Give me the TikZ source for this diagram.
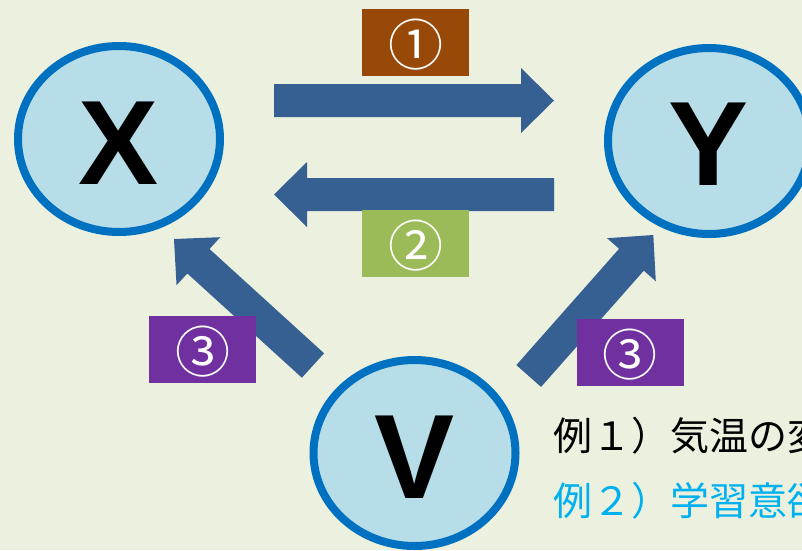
\documentclass[tikz,border=0pt]{standalone}
\usepackage{fontspec}
\setmainfont{Liberation Sans}
\newfontfamily\jpfont{Noto Sans CJK JP}
\usetikzlibrary{shapes.geometric,calc}

\definecolor{bgcol}{HTML}{EBF1DE}
\definecolor{ellfill}{HTML}{B7DEE8}
\definecolor{ellline}{HTML}{0070C0}
\definecolor{arrowblue}{HTML}{376092}
\definecolor{boxbrown}{HTML}{984807}
\definecolor{boxgreen}{HTML}{9BBB59}
\definecolor{boxpurple}{HTML}{7030A0}
\definecolor{exblue}{HTML}{00B0F0}

\tikzset{
  varell/.style={ellipse, draw=ellline, fill=ellfill, line width=8pt,
    minimum width=202pt, minimum height=186pt, inner sep=0pt},
  varletter/.style={font=\fontsize{120}{120}\selectfont\bfseries, inner sep=0pt},
  numbox/.style={minimum width=107pt, minimum height=67pt, inner sep=0pt},
  numtext/.style={text=white, inner sep=0pt, font=\jpfont\fontsize{55}{55}\selectfont},
  extext/.style={anchor=base west, inner sep=0pt,
    font=\jpfont\fontsize{39}{39}\selectfont}
}

% block arrow from tail #1 to tip #2
\newcommand\blockarrow[2]{%
  \path ($(#2)!33pt!(#1)$) coordinate (ba-n);
  \fill[arrowblue]
    ($(#1)!16.5pt!90:(#2)$) -- ($(ba-n)!16.5pt!90:(#2)$) --
    ($(ba-n)!32.5pt!90:(#2)$) -- (#2) --
    ($(ba-n)!32.5pt!-90:(#2)$) -- ($(ba-n)!16.5pt!-90:(#2)$) --
    ($(#1)!16.5pt!-90:(#2)$) -- cycle;
}

\begin{document}
\begin{tikzpicture}[x=1pt, y=-1pt]
  \fill[bgcol] (0,0) rectangle (802,550);
  \useasboundingbox (0,0) rectangle (802,550);
  \clip (0,0) rectangle (802,550);

  % the three variables
  \node[varell] (X) at (119,139) {};
  \node[varell] (Y) at (709,141) {};
  \node[varell] (V) at (414.5,453) {};
  \node[varletter] (Xl) at ($(X)+(0,4)$) {X};
  \node[varletter] (Yl) at ($(Y)+(0,3.5)$) {Y};
  \node[varletter] (Vl) at ($(V)+(0,4.5)$) {V};

  % arrow ends
  \coordinate (a1t) at (274,100.5);
  \coordinate (a1h) at (554,100.5);
  \coordinate (a2t) at (554,194.5);
  \coordinate (a2h) at (274,194.5);
  \coordinate (a3t) at (313,365.5);
  \coordinate (a3h) at (174,239);
  \coordinate (a4t) at (528.7,376);
  \coordinate (a4h) at (653.3,235);

  \blockarrow{a1t}{a1h}
  \blockarrow{a2t}{a2h}
  \blockarrow{a3t}{a3h}
  \blockarrow{a4t}{a4h}

  % numbered labels
  \node[numbox, fill=boxbrown] (n1) at (415.5,42.5) {};
  \node[numbox, fill=boxgreen] (n2) at (415.5,243.5) {};
  \node[numbox, fill=boxpurple] (n3a) at (202.5,349.5) {};
  \node[numbox, fill=boxpurple] (n3b) at (630,352.5) {};
  \node[numtext] (t1) at ($(n1)+(0,2)$) {①};
  \node[numtext] (t2) at ($(n2)+(0,2)$) {②};
  \node[numtext] (t3a) at ($(n3a)+(0,2)$) {③};
  \node[numtext] (t3b) at ($(n3b)+(0,2)$) {③};

  % examples
  \node[extext] (ex1) at (553,450) {例１）気温の変};
  \node[extext, text=exblue] (ex2) at (553,515) {例２）学習意欲};
\end{tikzpicture}
\end{document}
